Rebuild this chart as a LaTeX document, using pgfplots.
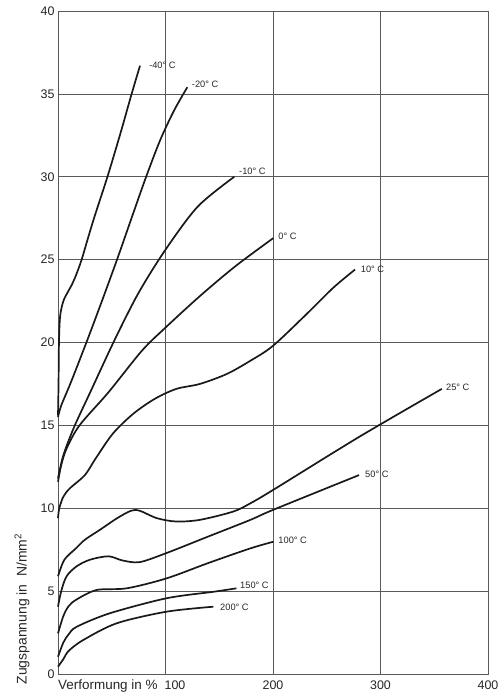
\documentclass[border=0pt]{standalone}
\usepackage{fontspec}
\setmainfont{Liberation Sans}
\usepackage{pgfplots}
\pgfplotsset{compat=1.18}
\pgfplotsset{curve/.style={draw=black!90, solid, mark=none, line width=1.7bp, smooth, tension=0.5}}
\begin{document}
\begin{tikzpicture}
\begin{axis}[name=ax, scale only axis, width=430bp, height=663bp,
  xmin=0, xmax=400, ymin=0, ymax=40,
  xtick={100,200,300,400}, xticklabels={\hspace*{19bp}100,200,300,400},
  ytick={0,5,...,40},
  grid=major, major grid style={black!65, line width=0.7bp},
  axis line style={black!65, line width=0.8bp},
  major tick length=0pt,
  tick label style={font=\fontsize{12.5}{14}\selectfont, text=black!85},
  xticklabel style={yshift=-3bp},
  /pgf/number format/assume math mode=true,
  clip=false]
% -40
\addplot[curve] coordinates {(0,15.6) (0.5,17.5) (0.9,20) (2,21.6) (5,22.5) (9.6,23.1) (13,23.5) (17,24.1) (22,25) (27,26.1) (34,27.6) (46,30) (58,32.6) (68.5,35) (76.3,36.7)};
% -20
\addplot[curve] coordinates {(0,15.5) (3,16.2) (12,17.6) (27,20.1) (42,22.7) (56,25.2) (70,27.8) (82,30) (95,32.2) (108,34) (120.3,35.4)};
% -10
\addplot[curve] coordinates {(0,11.8) (5,13.2) (15,14.9) (30,17) (53,20.2) (75,23) (100,25.6) (130,28.2) (164,30)};
% 0
\addplot[curve] coordinates {(0,11.6) (3,12.6) (8,13.6) (20,15) (47,17) (78,19.5) (100,20.9) (132,22.8) (165,24.6) (200.3,26.3)};
% 10
\addplot[curve] coordinates {(0,9.4) (1.2,10) (5,10.7) (11,11.2) (25,12) (35,13) (51,14.5) (70,15.7) (90,16.6) (110,17.2) (132,17.5) (157,18.1) (179,18.9) (200,19.8) (231,21.7) (256,23.3) (276.3,24.4)};
% 25
\addplot[curve] coordinates {(0,5.9) (6,6.9) (17,7.6) (25,8.1) (39,8.7) (55,9.4) (68,9.85) (76,9.85) (92,9.4) (110,9.2) (132,9.3) (163,9.8) (179,10.3) (200,11.1) (280,14.3) (357,17.2)};
% 50
\addplot[curve] coordinates {(0,4.06) (3,5) (8,5.9) (17.4,6.5) (30,6.9) (47,7.1) (60,6.85) (76,6.75) (101,7.3) (140,8.3) (179,9.3) (200,9.9) (280,12.0)};
% 100
\addplot[curve] coordinates {(0,2.45) (5,3.5) (10,4.1) (17.4,4.5) (36,5.07) (64,5.17) (101,5.77) (140,6.7) (179,7.58) (200.3,7.98)};
% 150
\addplot[curve] coordinates {(0,1.04) (5,1.9) (10,2.4) (17.4,2.85) (48,3.66) (101,4.57) (144.5,4.96) (166,5.17)};
% 200
\addplot[curve] coordinates {(0,0.44) (5,0.9) (10,1.4) (23.5,2.05) (54.6,3.06) (101,3.76) (144.5,4.06)};

\begin{scope}[every node/.style={anchor=west, inner sep=0pt, font=\fontsize{9.3}{11}\selectfont, text=black!85}]
\node at (axis cs:84.7,36.73) {-40° C};
\node at (axis cs:124.4,35.6) {-20° C};
\node at (axis cs:168.4,30.3) {-10° C};
\node at (axis cs:204.9,26.4) {0° C};
\node at (axis cs:281.6,24.4) {10° C};
\node at (axis cs:360.9,17.3) {25° C};
\node at (axis cs:285.6,12.06) {50° C};
\node at (axis cs:204.9,8.08) {100° C};
\node at (axis cs:169.3,5.37) {150° C};
\node at (axis cs:150.7,4.0) {200° C};
\end{scope}
\end{axis}
\node[anchor=west, inner sep=0pt, font=\fontsize{13.5}{15}\selectfont, text=black!85] at ([yshift=-12bp]ax.south west) {Verformung in \%};
\node[rotate=90, anchor=center, inner sep=0pt, font=\fontsize{14}{16}\selectfont, text=black!85] at ([xshift=-36bp,yshift=65bp]ax.south west) {Zugspannung in \ N/mm\textsuperscript{2}};
\useasboundingbox ([xshift=-58bp,yshift=-22bp]ax.south west) rectangle ([xshift=439bp,yshift=674bp]ax.south west);
\end{tikzpicture}
\end{document}
